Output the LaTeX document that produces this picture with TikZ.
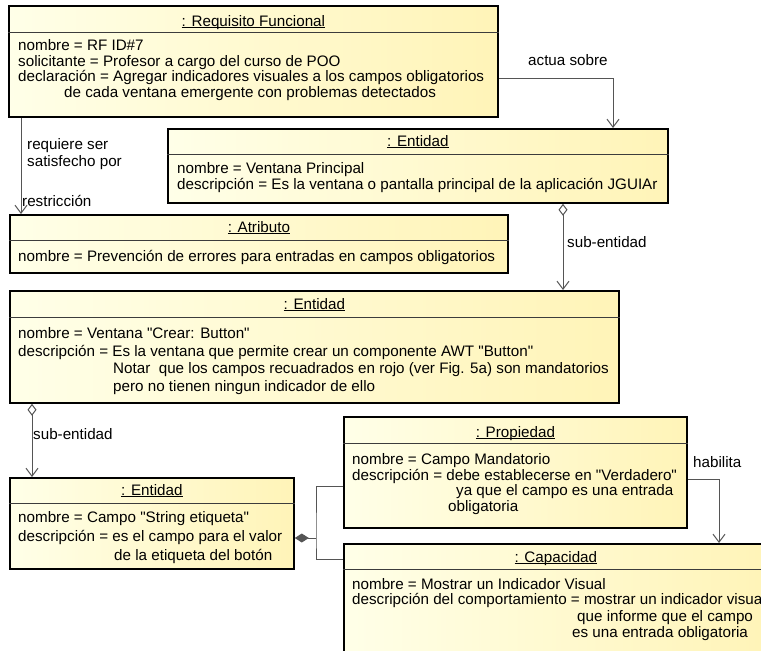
\documentclass[tikz,border=0pt]{standalone}
\usepackage{fontspec}
\setmainfont{Liberation Sans}
\usetikzlibrary{arrows.meta}
\definecolor{boxL}{RGB}{255,255,232}
\definecolor{boxR}{RGB}{255,244,184}
\definecolor{lnk}{RGB}{85,85,85}
\definecolor{sepc}{RGB}{60,60,60}
\newcommand\ttlu[1]{\underline{\smash{#1}}}
\newcommand\qd{\textquotedbl}
\begin{document}
\begin{tikzpicture}[x=1pt,y=-1pt,
  font=\fontsize{15.2}{16}\selectfont,
  box/.style={draw=black, line width=1.8pt, rectangle, inner sep=0pt, anchor=north west, left color=boxL, right color=boxR},
  sepline/.style={draw=sepc, line width=0.9pt},
  txt/.style={inner sep=0pt, anchor=base west},
  ttl/.style={inner sep=0pt, anchor=base},
  conn/.style={draw=lnk, line width=1pt},
  barb/.tip={Straight Barb[length=8pt,width=12pt,line width=1pt]},
  odia/.tip={Diamond[length=12pt,width=9pt,fill=white,line width=1pt]},
  fdia/.tip={Diamond[length=14pt,width=9pt,fill=lnk,line width=1pt]}]
\useasboundingbox (0,0) rectangle (761,651);
\clip (0,0) rectangle (761,651);
\fill[white] (0,0) rectangle (761,651);

% ---------- boxes ----------
\node[box, minimum width=489pt, minimum height=111pt] (rf) at (8,5) {};
\node[box, minimum width=500pt, minimum height=74pt] (vp) at (167,128) {};
\node[box, minimum width=498pt, minimum height=58pt] (at) at (9,214) {};
\node[box, minimum width=609pt, minimum height=112pt] (cb) at (9,290) {};
\node[box, minimum width=284pt, minimum height=91pt] (ce) at (9,477) {};
\node[box, minimum width=343pt, minimum height=111pt] (pr) at (343,416) {};
\node[box, minimum width=424pt, minimum height=125pt] (ca) at (343,543) {};

% ---------- separators ----------
\draw[sepline] (rf.west |- 0,32) -- (rf.east |- 0,32);
\draw[sepline] (vp.west |- 0,154) -- (vp.east |- 0,154);
\draw[sepline] (at.west |- 0,240) -- (at.east |- 0,240);
\draw[sepline] (cb.west |- 0,317) -- (cb.east |- 0,317);
\draw[sepline] (ce.west |- 0,503) -- (ce.east |- 0,503);
\draw[sepline] (pr.west |- 0,443) -- (pr.east |- 0,443);
\draw[sepline] (ca.west |- 0,569) -- (ca.east |- 0,569);

% ---------- Requisito Funcional ----------
\node[ttl] (rft) at (rf.north |- 0,26) {\ttlu{: Requisito Funcional}};
\node[txt] (rf1) at (18,50.5) {nombre = RF ID\#7};
\node[txt] (rf2) at (18,66) {solicitante = Profesor a cargo del curso de POO};
\node[txt] (rf3) at (18,81.5) {declaración = Agregar indicadores visuales a los campos obligatorios};
\node[txt] (rf4) at (64,97) {de cada ventana emergente con problemas detectados};

% ---------- Entidad: Ventana Principal ----------
\node[ttl] (vpt) at (vp.north |- 0,146) {\ttlu{: Entidad}};
\node[txt] (vp1) at (177,173.5) {nombre = Ventana Principal};
\node[txt] (vp2) at (177,189.5) {descripción = Es la ventana o pantalla principal de la aplicación JGUIAr};

% ---------- Atributo ----------
\node[ttl] (att) at (at.north |- 0,232) {\ttlu{: Atributo}};
\node[txt] (at1) at (18,261.5) {nombre = Prevención de errores para entradas en campos obligatorios};

% ---------- Entidad: Crear Button ----------
\node[ttl] (cbt) at (cb.north |- 0,309) {\ttlu{: Entidad}};
\node[txt] (cb1) at (18,338.5) {nombre = Ventana \qd Crear: Button\qd};
\node[txt] (cb2) at (18,356) {descripción = Es la ventana que permite crear un componente AWT \qd Button\qd};
\node[txt] (cb3) at (113,373.5) {Notar\ \ que los campos recuadrados en rojo (ver Fig. 5a) son mandatorios};
\node[txt] (cb4) at (113,391.5) {pero no tienen ningun indicador de ello};

% ---------- Entidad: Campo ----------
\node[ttl] (cet) at (ce.north |- 0,495) {\ttlu{: Entidad}};
\node[txt] (ce1) at (18,522.5) {nombre = Campo \qd String etiqueta\qd};
\node[txt] (ce2) at (18,541.5) {descripción = es el campo para el valor};
\node[txt] (ce3) at (114,560.5) {de la etiqueta del botón};

% ---------- Propiedad ----------
\node[ttl] (prt) at (pr.north |- 0,437) {\ttlu{: Propiedad}};
\node[txt] (pr1) at (352,464.5) {nombre = Campo Mandatorio};
\node[txt] (pr2) at (352,480.5) {descripción = debe establecerse en \qd Verdadero\qd};
\node[txt] (pr3) at (456,495.5) {ya que el campo es una entrada};
\node[txt] (pr4) at (448,511.5) {obligatoria};

% ---------- Capacidad ----------
\node[ttl] (cat) at (ca.north |- 0,562) {\ttlu{: Capacidad}};
\node[txt] (ca1) at (352,589.5) {nombre = Mostrar un Indicador Visual};
\node[txt] (ca2) at (352,604.5) {descripción del comportamiento = mostrar un indicador visual};
\node[txt] (ca3) at (577,621.5) {que informe que el campo};
\node[txt] (ca4) at (572,637.5) {es una entrada obligatoria};

% ---------- connectors ----------
\draw[conn, -barb] (rf.east |- 0,78) -| (vp.north -| 613,0);
\node[txt] (l1) at (528,65.5) {actua sobre};

\draw[conn, -barb] (rf.south -| 21,0) -- (at.north -| 21,0);
\node[txt] (l2a) at (27,149.5) {requiere ser};
\node[txt] (l2b) at (27,166.5) {satisfecho por};
\node[txt] (l2c) at (22,206.5) {restricción};

\draw[conn, odia-barb] (vp.south -| 563,0) -- (cb.north -| 563,0);
\node[txt] (l3) at (567,247.5) {sub-entidad};

\draw[conn, odia-barb] (cb.south -| 32,0) -- (ce.north -| 32,0);
\node[txt] (l4) at (33,439.5) {sub-entidad};

\coordinate (j) at (316,538);
\draw[conn, fdia-] (ce.east |- j) -- (j);
\draw[conn] (pr.west |- 0,486) -| (j) |- (ca.west |- 0,559);

\draw[conn, -barb] (pr.east |- 0,479) -| (ca.north -| 719,0);
\node[txt] (l5) at (693,467.5) {habilita};
\end{tikzpicture}
\end{document}
